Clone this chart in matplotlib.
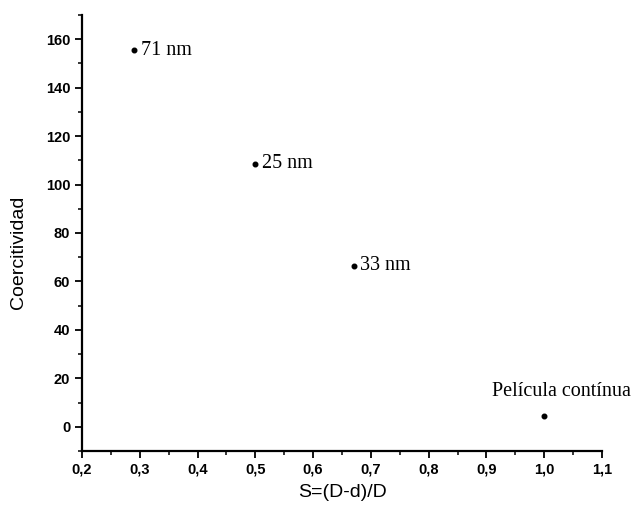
import matplotlib
matplotlib.use('Agg')
import matplotlib.pyplot as plt
from matplotlib.ticker import MultipleLocator, FuncFormatter

# Coercivity vs. separation ratio S=(D-d)/D
s_values = [0.29, 0.50, 0.67, 1.00]
coercivity = [155.5, 108.5, 66.5, 4.5]
labels = ['71 nm', '25 nm', '33 nm', 'Película contínua']

fig = plt.figure(figsize=(6.31, 5.16), dpi=100)
ax = fig.add_axes([0.130, 0.126, 0.824, 0.845])

ax.plot(s_values, coercivity, 'o', color='black', markersize=3.3)

serif = {'family': 'Liberation Serif', 'size': 14.5}
for x, y, lab in zip(s_values, coercivity, labels):
    if lab.startswith('Pel'):
        ax.text(x + 0.03, y + 6, lab, ha='center', va='bottom', fontdict=serif)
    else:
        ax.text(x + 0.012, y, lab, ha='left', va='center', fontdict=serif)

ax.set_xlim(0.2, 1.1)
ax.set_ylim(-10, 170)
ax.xaxis.set_major_locator(MultipleLocator(0.1))
ax.xaxis.set_minor_locator(MultipleLocator(0.05))
ax.yaxis.set_minor_locator(MultipleLocator(10))
ax.xaxis.set_major_formatter(FuncFormatter(lambda v, p: f'{v:.1f}'.replace('.', ',')))
ax.set_yticks(range(0, 161, 20))

for side in ['top', 'right']:
    ax.spines[side].set_visible(False)
for side in ['left', 'bottom']:
    ax.spines[side].set_linewidth(1.6)

ax.tick_params(which='major', direction='out', length=5, width=1.3, labelsize=10.5)
ax.tick_params(which='minor', direction='out', length=3, width=1.1)
for t in ax.get_xticklabels() + ax.get_yticklabels():
    t.set_fontweight('bold')
    t.set_family('Liberation Sans')

ax.set_xlabel('S=(D-d)/D', fontsize=14, family='Liberation Sans', labelpad=5)
ax.set_ylabel('Coercitividad', fontsize=14, family='Liberation Sans')
ax.yaxis.set_label_coords(-0.106, 0.456)

fig.savefig('out.png', dpi=100)
